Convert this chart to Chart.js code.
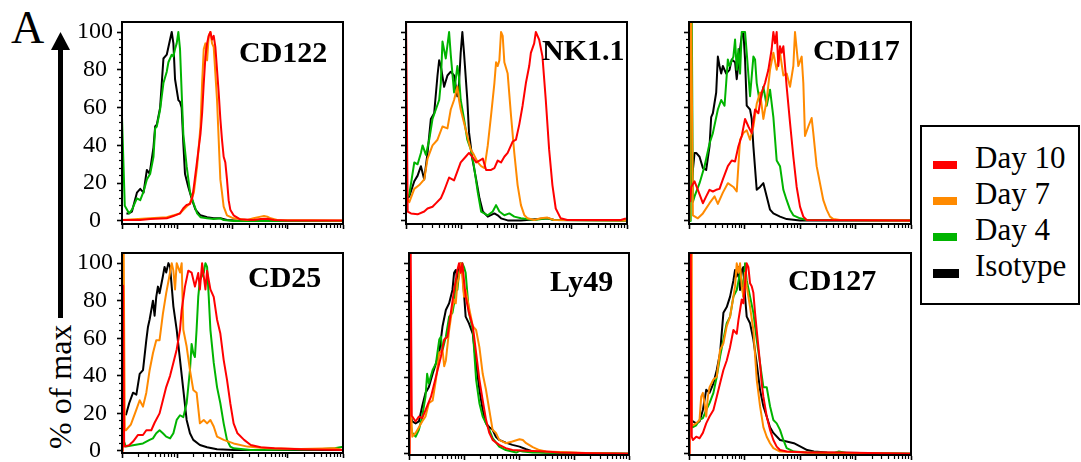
<!DOCTYPE html>
<html>
<head>
<meta charset="utf-8">
<script src="https://cdn.jsdelivr.net/npm/chart.js@4.4.1/dist/chart.umd.min.js"></script>
<style>
  body { margin: 0; background: #fff; width: 1081px; height: 462px; overflow: hidden; position: relative;
         font-family: "Liberation Serif", "Times New Roman", serif; color: #000; }
  canvas { position: absolute; }
  .marker { position: absolute; font-weight: bold; font-size: 30px; line-height: 30px; white-space: nowrap; }
  .legend { position: absolute; left: 920px; top: 125px; width: 156px; height: 176px; border: 2px solid #000; }
  .legend .sw { position: absolute; left: 11px; width: 24px; height: 8px; }
  .legend .tx { position: absolute; left: 53px; font-size: 31px; line-height: 31px; white-space: nowrap; }
  #panelA { position: absolute; left: 11px; top: 5px; font-size: 46px; line-height: 46px; }
  #yTitle { position: absolute; left: 0px; top: 373px; width: 120px; text-align: center; font-size: 32px;
            line-height: 32px; transform: rotate(-90deg); white-space: nowrap; }
</style>
</head>
<body>
<div id="panelA">A</div>
<svg style="position:absolute;left:0;top:0" width="100" height="330">
  <rect x="58" y="48" width="5" height="270" fill="#000"/>
  <polygon points="51,50 70,50 60.5,32" fill="#000"/>
</svg>
<div id="yTitle">% of max</div>
<div class="legend" id="legend"></div>

<script>
// x is fluorescence in log decades (0..4), y is % of max
const decades = [0, 1, 2, 3, 4];
const yTicks = [0, 20, 40, 60, 80, 100];
const seriesNames = ['Day 10', 'Day 7', 'Day 4', 'Isotype'];
const seriesColors = ['#ff0000', '#ff8a00', '#00b400', '#000000'];
const markers = ['CD122', 'NK1.1', 'CD117', 'CD25', 'Ly49', 'CD127'];

/* ---- CD122 ---- */
const cd122Day10 = [[0,0.5],[0.33,0.5],[0.51,1],[0.81,1.4],[0.93,2.6],[1.05,4],[1.11,6.7],[1.17,8.5],[1.23,9],[1.27,12],[1.3,18],[1.36,32],[1.42,46],[1.45,57],[1.48,73],[1.51,87],[1.54,94],[1.57,98],[1.6,100],[1.63,96],[1.66,98],[1.69,92],[1.72,80],[1.75,68],[1.78,54],[1.81,43],[1.84,34],[1.87,31],[1.9,22],[1.93,11],[1.96,6],[2.02,3],[2.14,0.9],[2.38,0.5],[2.51,1],[2.63,1.2],[2.75,0.5],[2.99,0.2],[4,0.2]];
const cd122Day7 = [[0,0.5],[0.51,1.4],[0.81,2],[1.05,4],[1.17,7.6],[1.23,9.4],[1.3,15],[1.36,29],[1.42,50],[1.45,73],[1.48,91],[1.51,94],[1.54,85],[1.57,98],[1.6,100],[1.63,94],[1.66,92],[1.69,78],[1.72,64],[1.75,43],[1.78,22],[1.81,15],[1.84,7.6],[1.9,3],[2.02,1.4],[2.27,0.5],[2.38,1.4],[2.51,2.3],[2.57,2.6],[2.63,2.3],[2.69,1.4],[2.81,0.5],[4,0.2]];
const cd122Day4 = [[0,55],[0.05,8],[0.13,4],[0.18,6],[0.27,12],[0.33,11],[0.39,15.5],[0.45,22],[0.51,25],[0.57,34],[0.6,49],[0.63,50],[0.69,59],[0.75,73],[0.81,79],[0.84,84],[0.9,88],[0.93,87],[0.96,91],[0.99,94],[1.02,100],[1.05,91],[1.08,68],[1.11,46],[1.17,29],[1.23,15.5],[1.3,9],[1.36,4],[1.42,2],[1.54,1.4],[1.66,1],[1.78,1.4],[1.84,0.5],[2.02,0],[4,0]];
const cd122Iso = [[0.08,4],[0.12,4],[0.18,5],[0.27,15],[0.33,17],[0.39,15],[0.45,27],[0.5,25],[0.57,39],[0.6,50],[0.63,51],[0.69,60],[0.75,86],[0.81,88],[0.87,96],[0.9,100],[0.93,94],[0.96,75],[1.02,64],[1.05,63],[1.08,60],[1.11,41],[1.14,25],[1.2,18],[1.27,11],[1.33,6],[1.42,3],[1.54,2],[1.66,1.5],[1.78,1.5],[1.9,0.5],[2.2,0],[4,0]];

/* ---- NK1.1 ---- */
const nk11Day10 = [[0,110],[0.03,5],[0.09,4],[0.21,3.5],[0.33,5],[0.39,6.6],[0.48,7.5],[0.54,9.3],[0.63,12],[0.69,16],[0.78,23],[0.87,21.5],[0.99,31],[1.08,34],[1.14,36],[1.2,34],[1.27,31],[1.33,32],[1.39,33],[1.45,27],[1.54,27],[1.6,28],[1.66,32],[1.72,31],[1.78,34],[1.84,36],[1.93,42],[1.99,43],[2.05,51],[2.11,61],[2.17,73],[2.23,82],[2.26,89],[2.32,94],[2.35,100],[2.41,96],[2.47,87],[2.53,64],[2.59,38],[2.65,19],[2.71,6.6],[2.8,1.4],[2.92,0.5],[3.89,0.5],[3.98,1.4]];
const nk11Day7 = [[0.02,12],[0.06,10],[0.15,17],[0.24,19],[0.33,22],[0.39,33],[0.48,40],[0.57,43],[0.66,50],[0.75,49],[0.81,59],[0.87,64],[0.93,71],[0.96,64],[0.99,59],[1.05,52],[1.11,45],[1.17,38],[1.23,35],[1.3,31],[1.36,29],[1.42,28],[1.48,40],[1.54,56],[1.6,73],[1.63,84],[1.66,82],[1.69,85],[1.72,100],[1.75,98],[1.78,84],[1.84,78],[1.9,56],[1.96,36],[2.02,19],[2.08,8.4],[2.14,3.2],[2.2,1.4],[2.32,0.5],[2.44,1.4],[2.56,1.8],[2.68,0.5],[4,0.3]];
const nk11Day4 = [[0.02,12],[0.06,14],[0.15,31],[0.21,30],[0.27,36],[0.3,40],[0.36,35],[0.42,43],[0.48,54],[0.54,59],[0.6,64],[0.63,73],[0.66,95],[0.72,86],[0.78,100],[0.81,88],[0.87,68],[0.93,82],[0.96,76],[0.99,64],[1.05,54],[1.11,43],[1.17,38],[1.23,29],[1.3,15],[1.36,5],[1.48,3],[1.57,5],[1.63,8.4],[1.69,5],[1.78,3],[1.87,4],[1.96,2.3],[2.08,1.4],[2.32,0.5],[2.56,1.4],[2.68,0.5],[4,0.3]];
const nk11Iso = [[0.02,12],[0.06,13],[0.15,21],[0.21,24],[0.27,29],[0.33,22],[0.39,36],[0.45,54],[0.51,57],[0.57,77],[0.6,85],[0.63,82],[0.69,71],[0.75,77],[0.81,79],[0.87,77],[0.93,66],[0.96,73],[0.99,89],[1.02,100],[1.05,89],[1.11,64],[1.14,47],[1.2,33],[1.27,22],[1.33,12],[1.39,5],[1.48,2.3],[1.6,4],[1.66,3],[1.72,1.4],[1.84,0.3],[2.08,0.3],[2.56,1.4],[2.68,0.5],[4,0.3]];

/* ---- CD117 ---- */
const cd117Day10 = [[0.02,10],[0.04,18],[0.1,21],[0.16,16.5],[0.25,9.4],[0.31,13],[0.37,16.5],[0.43,15.6],[0.49,16.5],[0.55,17],[0.61,22],[0.7,29],[0.77,32],[0.83,31.5],[0.89,39.5],[0.95,45],[1.01,54],[1.07,50],[1.13,46.5],[1.19,59],[1.25,57],[1.31,68],[1.37,73],[1.43,80],[1.49,91],[1.52,100],[1.55,94],[1.58,100],[1.61,82],[1.64,92.5],[1.67,89],[1.7,92.5],[1.73,82],[1.76,71],[1.82,52],[1.88,34],[1.94,18],[2.0,7.6],[2.06,2.3],[2.12,0.5],[4,0.3]];
const cd117Day7 = [[0.01,0],[0.02,110],[0.04,110],[0.07,3],[0.16,1.4],[0.25,4],[0.37,9.4],[0.46,13],[0.52,9],[0.61,15],[0.7,20],[0.8,18],[0.86,15.6],[0.92,43],[0.98,46.5],[1.04,48],[1.1,43],[1.16,50],[1.22,62],[1.28,68],[1.34,54],[1.4,64],[1.46,80],[1.52,89],[1.58,80],[1.64,89],[1.7,77],[1.76,78],[1.82,71],[1.88,82],[1.91,100],[1.94,91],[1.97,82],[2.03,87],[2.06,73],[2.09,45],[2.15,50],[2.21,54.5],[2.24,46.5],[2.3,29],[2.36,20],[2.42,11],[2.48,6],[2.54,2.3],[2.6,1],[2.72,0.5],[4,0.3]];
const cd117Day4 = [[0.02,0],[0.03,110],[0.05,110],[0.07,10],[0.1,13],[0.19,20],[0.28,29],[0.37,41],[0.43,46.5],[0.52,59],[0.58,64],[0.64,61],[0.67,73],[0.7,85.5],[0.73,82],[0.8,87],[0.83,96],[0.86,80],[0.89,91],[0.92,78],[0.95,100],[1.01,100],[1.04,89],[1.1,66],[1.16,87],[1.19,85.5],[1.22,73],[1.28,62],[1.34,71],[1.4,61],[1.46,69.5],[1.52,55],[1.58,32],[1.64,29],[1.7,16.5],[1.76,11],[1.82,6],[1.88,3],[2.0,1.4],[2.12,0.5],[4,0.3]];
const cd117Iso = [[0.04,18],[0.1,36],[0.13,36],[0.19,34],[0.25,28],[0.31,27],[0.37,39.5],[0.4,55],[0.43,57],[0.49,68],[0.52,87],[0.55,82],[0.58,78],[0.61,82],[0.67,78],[0.73,80],[0.77,85.5],[0.83,84],[0.86,75],[0.92,91],[0.95,98],[0.98,100],[1.01,85.5],[1.04,61],[1.1,59],[1.13,54],[1.16,39.5],[1.22,16.5],[1.28,18],[1.34,20],[1.4,13],[1.46,6],[1.52,4],[1.64,2.3],[1.76,1],[2.0,0.3],[4,0.3]];

/* ---- CD25 ---- */
const cd25Day10 = [[0,0],[0.01,88],[0.02,88],[0.04,2.3],[0.13,3],[0.2,5],[0.29,8.5],[0.38,8.5],[0.44,11],[0.53,11],[0.59,15],[0.68,20],[0.74,27],[0.8,34],[0.87,40],[0.93,47],[0.99,54],[1.05,64.5],[1.08,75],[1.14,87.5],[1.2,96],[1.26,95],[1.32,87.5],[1.38,94.7],[1.41,86],[1.45,100],[1.48,93],[1.51,86],[1.54,96],[1.6,86],[1.66,82],[1.72,70],[1.78,62.5],[1.84,48.5],[1.9,38],[1.96,25.4],[2.02,14.7],[2.09,9.4],[2.21,5.9],[2.33,3.2],[2.51,2],[2.76,1.4],[3.24,0.9],[4,0.5]];
const cd25Day7 = [[0,0],[0.01,110],[0.03,110],[0.05,11],[0.07,11],[0.16,14],[0.26,22],[0.32,27],[0.38,23.6],[0.44,31],[0.5,43],[0.56,52],[0.62,59],[0.68,59],[0.74,73],[0.8,84],[0.87,95],[0.9,100],[0.93,96],[0.96,86],[0.99,100],[1.05,95],[1.08,100],[1.11,64.5],[1.17,55.6],[1.23,43],[1.29,32.5],[1.35,31],[1.41,14.7],[1.48,16.5],[1.54,14.7],[1.6,16.5],[1.66,13],[1.72,7.6],[1.84,5.9],[2.02,4],[2.27,2.3],[2.63,1.4],[3.24,1],[3.85,1.4],[4,0.5]];
const cd25Day4 = [[0,8],[0.01,7],[0.07,2.3],[0.2,3],[0.38,4],[0.5,5.9],[0.56,6.7],[0.62,9.4],[0.68,11],[0.74,9.4],[0.8,7.6],[0.87,6.7],[0.93,9.4],[0.99,16.5],[1.05,19],[1.11,18],[1.17,25.4],[1.23,43],[1.26,57],[1.29,52],[1.32,50],[1.35,64.5],[1.38,82],[1.41,91],[1.48,95],[1.51,100],[1.54,98],[1.57,82],[1.6,64.5],[1.66,47],[1.72,34],[1.78,25.4],[1.84,14.7],[1.9,5.9],[1.96,2.3],[2.02,1.4],[2.33,0.5],[3.55,0.9],[3.85,1.4],[4,2.3]];
const cd25Iso = [[0.07,19],[0.13,25.4],[0.2,31],[0.26,30],[0.32,41],[0.38,43],[0.44,59],[0.47,66],[0.5,70],[0.53,75],[0.56,80],[0.59,72],[0.62,82],[0.65,87.5],[0.68,84],[0.74,93],[0.77,98],[0.8,95],[0.84,100],[0.87,98],[0.93,77],[0.99,64.5],[1.05,48.5],[1.11,32.5],[1.17,16.5],[1.23,9.4],[1.29,5.9],[1.41,3.2],[1.54,2],[1.72,0.9],[2.02,0.5],[4,0.5]];

/* ---- Ly49 ---- */
const ly49Day10 = [[0,0],[0.01,110],[0.03,110],[0.05,20],[0.06,19.6],[0.12,17],[0.18,19.6],[0.24,18.7],[0.3,23],[0.4,30],[0.49,40.5],[0.58,51],[0.64,60],[0.7,61.5],[0.76,74],[0.82,86],[0.85,91],[0.88,96.5],[0.91,100],[0.94,95],[0.97,100],[1.0,91],[1.03,82.5],[1.09,74],[1.16,67],[1.22,53],[1.28,39],[1.34,28],[1.4,18],[1.46,11],[1.52,7.3],[1.64,4.7],[1.76,3],[1.88,2],[2.13,1.6],[2.49,1.2],[2.74,0.7],[3.34,0.3],[4,0]];
const ly49Day7 = [[0.01,0],[0.02,60],[0.04,20],[0.06,9],[0.12,11],[0.18,14],[0.24,17],[0.3,19.6],[0.36,26.6],[0.43,28],[0.49,39],[0.55,53],[0.61,54.5],[0.64,46],[0.67,49],[0.73,65],[0.79,77],[0.82,81],[0.85,79],[0.88,89.5],[0.91,93],[0.94,100],[0.97,93],[1.0,82.5],[1.03,86],[1.09,77],[1.16,67],[1.22,65],[1.28,56],[1.34,42],[1.4,33.6],[1.46,23],[1.52,12.6],[1.58,11],[1.64,7.3],[1.76,5.6],[1.88,6.5],[2.01,7.7],[2.07,7.3],[2.13,5.6],[2.25,3.5],[2.37,2],[2.49,1.2],[3.34,0.3],[4,0]];
const ly49Day4 = [[0.03,15],[0.06,11],[0.12,9],[0.18,12.6],[0.24,19.6],[0.3,30],[0.33,42],[0.36,37],[0.43,44],[0.49,47.5],[0.55,60],[0.58,61.5],[0.61,54.5],[0.67,61.5],[0.73,72],[0.79,74],[0.82,79],[0.85,91],[0.88,86],[0.91,95],[0.97,100],[1.0,98],[1.03,95],[1.09,74],[1.16,65],[1.22,39],[1.28,26.6],[1.34,19.6],[1.4,16],[1.46,12.6],[1.52,8.2],[1.64,3.8],[1.76,2],[1.95,0.7],[2.01,1.6],[2.07,1.2],[2.25,0.7],[4,0]];
const ly49Iso = [[0.03,20],[0.06,17],[0.12,16],[0.18,17],[0.24,25],[0.3,32],[0.36,35],[0.43,42],[0.49,47.5],[0.55,53],[0.61,67],[0.67,75.5],[0.73,79],[0.79,86],[0.82,95],[0.85,96.5],[0.88,91],[0.91,98],[0.94,100],[0.97,96.5],[1.03,72],[1.09,68.5],[1.16,63],[1.22,47.5],[1.28,33.6],[1.34,23],[1.4,16],[1.46,14],[1.52,12.6],[1.58,9],[1.64,7.3],[1.76,5.9],[1.88,4.7],[2.01,3.8],[2.13,2.4],[2.25,1.2],[2.49,0.7],[4,0]];

/* ---- CD127 ---- */
const cd127Day10 = [[0,0],[0.01,110],[0.03,110],[0.05,9],[0.07,7.3],[0.13,9],[0.19,8.2],[0.25,11],[0.31,16],[0.37,19.6],[0.44,23],[0.5,30],[0.56,37],[0.62,44],[0.68,49],[0.74,56],[0.8,65],[0.86,63],[0.89,70],[0.92,75.5],[0.95,81],[0.98,79],[1.01,89.5],[1.04,100],[1.07,98],[1.1,89.5],[1.13,88],[1.16,84.5],[1.19,74],[1.22,65],[1.28,47.5],[1.31,37],[1.34,30],[1.4,19.6],[1.46,12.6],[1.52,7.3],[1.58,3.8],[1.64,2],[1.76,1.2],[2.13,0.7],[2.73,0.7],[4,0]];
const cd127Day7 = [[0.01,0],[0.02,110],[0.04,110],[0.05,16],[0.07,15],[0.13,16],[0.19,17.8],[0.22,30],[0.25,32],[0.28,26.6],[0.31,19.6],[0.34,30],[0.37,35],[0.44,39],[0.5,40.5],[0.56,54.5],[0.62,58],[0.68,67],[0.74,72],[0.8,82.5],[0.83,88],[0.86,100],[0.89,95],[0.92,100],[0.95,88],[0.98,82.5],[1.01,95],[1.04,88],[1.1,77],[1.16,65],[1.22,39],[1.28,25],[1.34,14],[1.4,9],[1.46,5.6],[1.52,3],[1.64,1.2],[2.13,0.7],[4,0]];
const cd127Day4 = [[0.03,16],[0.07,14],[0.13,15],[0.19,17.8],[0.25,18.7],[0.31,23],[0.37,26.6],[0.44,32],[0.5,40.5],[0.56,51],[0.62,60],[0.68,68.5],[0.74,72],[0.8,82.5],[0.86,86],[0.92,95],[0.95,91],[0.98,82.5],[1.01,100],[1.04,91],[1.1,82.5],[1.16,74],[1.22,60],[1.28,47.5],[1.34,35],[1.4,35],[1.46,25],[1.52,17.8],[1.58,16],[1.64,12.6],[1.7,7.3],[1.76,3],[1.89,1.2],[2.13,0.7],[2.61,0.3],[2.7,1.2],[2.85,0.3],[4,0]];
const cd127Iso = [[0.03,18],[0.07,17],[0.13,16],[0.19,17],[0.25,23],[0.31,33.6],[0.37,32],[0.44,37],[0.5,44],[0.56,53],[0.62,74],[0.68,77],[0.74,82.5],[0.8,91],[0.83,96.5],[0.86,93],[0.89,98],[0.92,86],[0.95,96.5],[0.98,98],[1.01,82.5],[1.04,72],[1.1,68.5],[1.16,60],[1.22,47.5],[1.28,33.6],[1.34,25],[1.4,19.6],[1.46,14],[1.52,11],[1.64,7.3],[1.76,6.5],[1.89,5.6],[2.01,3.8],[2.13,2],[2.25,1.2],[2.49,0.7],[4,0]];

const panelSeries = [
  [cd122Day10, cd122Day7, cd122Day4, cd122Iso],
  [nk11Day10, nk11Day7, nk11Day4, nk11Iso],
  [cd117Day10, cd117Day7, cd117Day4, cd117Iso],
  [cd25Day10, cd25Day7, cd25Day4, cd25Iso],
  [ly49Day10, ly49Day7, ly49Day4, ly49Iso],
  [cd127Day10, cd127Day7, cd127Day4, cd127Iso]
];

// plot frame on the page: left, top, right, bottom, y min, y max
const frames = [
  [122, 22, 343, 224, -1.6, 105.3],
  [406, 22, 627, 224, -1.6, 105.3],
  [689, 22, 911, 224, -1.6, 105.3],
  [122, 253, 343, 453, -1.1, 105.4],
  [409, 253, 629, 455, -0.6, 105.4],
  [689, 253, 911, 455, -0.6, 105.4]
];
// marker label position (left, top)
const markerPos = [[239, 37], [542, 35], [813, 35], [248, 262], [550, 266], [788, 265]];

const framePlugin = {
  id: 'frame',
  afterDraw(chart) {
    const { ctx, chartArea: a } = chart;
    ctx.save();
    ctx.strokeStyle = '#000';
    ctx.lineWidth = 2;
    ctx.strokeRect(a.left, a.top, a.right - a.left, a.bottom - a.top);
    ctx.restore();
  }
};

const AXIS_W = 50, AXIS_H = 10, PAD_T = 8, PAD_R = 6, PAD_B = 2;

function buildPanel(i) {
  const [L, T, R, B, yMin, yMax] = frames[i];
  const canvas = document.createElement('canvas');
  canvas.width = R - L + AXIS_W + PAD_R;
  canvas.height = B - T + PAD_T + AXIS_H + PAD_B;
  canvas.style.left = (L - AXIS_W) + 'px';
  canvas.style.top = (T - PAD_T) + 'px';
  document.body.appendChild(canvas);

  const label = document.createElement('div');
  label.className = 'marker';
  label.textContent = markers[i];
  label.style.left = markerPos[i][0] + 'px';
  label.style.top = markerPos[i][1] + 'px';
  document.body.appendChild(label);

  const firstCol = i % 3 === 0;

  new Chart(canvas.getContext('2d'), {
    type: 'line',
    data: {
      datasets: panelSeries[i].map((s, k) => ({
        label: seriesNames[k],
        data: s,
        borderColor: seriesColors[k],
        borderWidth: 2,
        pointRadius: 0,
        tension: 0,
        fill: false,
        borderJoinStyle: 'round'
      }))
    },
    options: {
      responsive: false,
      devicePixelRatio: 1,
      animation: false,
      layout: { padding: { left: 0, top: PAD_T, right: PAD_R, bottom: PAD_B } },
      plugins: { legend: { display: false }, tooltip: { enabled: false } },
      scales: {
        x: {
          type: 'linear', min: 0, max: 4,
          afterBuildTicks: axis => {
            const t = [];
            decades.forEach(d => {
              if (d === decades[decades.length - 1]) { t.push({ value: d, major: true }); return; }
              for (let k = 1; k < 10; k++) t.push({ value: d + Math.log10(k), major: k === 1 });
            });
            axis.ticks = t;
          },
          afterFit: s => { s.height = AXIS_H; s.paddingLeft = 0; s.paddingRight = 0; s.paddingTop = 0; s.paddingBottom = 0; },
          ticks: { display: false },
          border: { display: true, color: '#000', width: 2 },
          grid: {
            drawOnChartArea: false, drawTicks: true, tickLength: 5, color: '#000',
            tickWidth: c => (c.tick && c.tick.major ? 1.6 : 1.2),
            tickBorderDash: c => (c.tick && c.tick.major ? [] : [3, 10])
          }
        },
        y: {
          type: 'linear', min: yMin, max: yMax,
          afterBuildTicks: axis => {
            const t = [];
            for (let v = yTicks[0]; v <= yTicks[yTicks.length - 1]; v += 4) t.push({ value: v, major: yTicks.includes(v) });
            axis.ticks = t;
          },
          afterFit: s => { s.width = AXIS_W; s.paddingLeft = 0; s.paddingRight = 0; s.paddingTop = 0; s.paddingBottom = 0; },
          ticks: {
            display: firstCol,
            autoSkip: false,
            crossAlign: 'center',
            padding: 4,
            color: '#000',
            font: { family: '"Liberation Serif", "Times New Roman", serif', size: 24 },
            callback: v => (yTicks.includes(v) ? String(v) : '')
          },
          border: { display: true, color: '#000', width: 2 },
          grid: {
            drawOnChartArea: false, drawTicks: true, tickLength: 5, color: '#000',
            tickWidth: c => (c.tick && c.tick.major ? 1.6 : 1.2),
            tickBorderDash: c => (c.tick && c.tick.major ? [] : [2, 2]),
            tickBorderDashOffset: c => (c.tick && c.tick.major ? 0 : 2)
          }
        }
      }
    },
    plugins: [framePlugin]
  });
}

for (let i = 0; i < markers.length; i++) buildPanel(i);

/* legend */
const legend = document.getElementById('legend');
const legendBase = [34, 70, 106, 142];
seriesNames.forEach((name, k) => {
  const sw = document.createElement('div');
  sw.className = 'sw';
  sw.style.background = seriesColors[k];
  sw.style.top = legendBase[k] + 'px';
  if (k === 3) { sw.style.width = '26px'; sw.style.height = '9px'; }
  legend.appendChild(sw);
  const tx = document.createElement('div');
  tx.className = 'tx';
  tx.textContent = name;
  tx.style.top = (legendBase[k] - 19) + 'px';
  legend.appendChild(tx);
});
</script>
</body>
</html>
